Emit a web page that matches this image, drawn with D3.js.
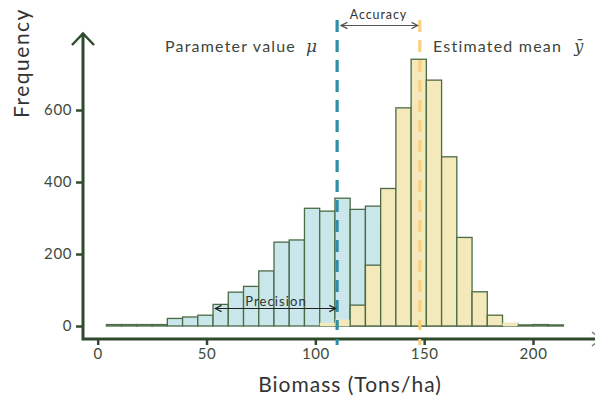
<!DOCTYPE html>
<html>
<head>
<meta charset="utf-8">
<script src="https://cdn.jsdelivr.net/npm/d3@7"></script>
<style>
  body { margin: 0; background: #fff; }
  svg { display: block; font-family: Lato, "Open Sans", sans-serif; }
</style>
</head>
<body>
<svg id="chart" width="595" height="400"></svg>
<script>
// histogram bins (left edge, width 7 t/ha)
const binLefts = [4, 11, 18, 25, 32, 39, 46, 53, 60, 67, 74, 81, 88, 95, 102,
                  109, 116, 123, 130, 137, 144, 151, 158, 165, 172, 179, 186, 193, 200, 207];
const binWidth = 7;
// wide distribution (blue)
const blueCounts = [4, 4, 4, 4, 21, 25, 30, 60, 94, 110, 153, 233, 239, 327, 319,
                    355, 324, 333, 290, 240, 180, 130, 80, 50, 25, 12, 6, 3, 4, 3];
// narrow, biased distribution (yellow)
const yellowCounts = [0, 0, 0, 0, 0, 0, 0, 0, 0, 0, 0, 0, 0, 0, 9,
                      18, 58, 169, 382, 606, 741, 683, 470, 246, 95, 30, 10, 0, 0, 0];
const xTicks = [0, 50, 100, 150, 200];
const yTicks = [0, 200, 400, 600];
const paramValue = 110;
const estMean = 148;

const svg = d3.select("#chart");
const axisColor = "#2f4a2c";
const textColor = "#3d463d";

const x = d3.scaleLinear().domain([0, 200]).range([97.7, 533]);
const y = d3.scaleLinear().domain([0, 600]).range([326, 110]);

const blueBins = binLefts.map((b, i) => ({ x0: b, x1: b + binWidth, n: blueCounts[i] }));
const yellowBins = binLefts.map((b, i) => ({ x0: b, x1: b + binWidth, n: yellowCounts[i] }))
    .filter(d => d.n > 0);

// 1. Bars
svg.append("g").selectAll("rect")
    .data(blueBins)
    .join("rect")
    .attr("x", d => x(d.x0))
    .attr("width", d => x(d.x1) - x(d.x0))
    .attr("y", d => y(d.n))
    .attr("height", d => y(0) - y(d.n))
    .attr("fill", "#c9e7ea")
    .attr("stroke", "#4c6a45")
    .attr("stroke-width", 1.3);

svg.append("g").selectAll("rect")
    .data(yellowBins)
    .join("rect")
    .attr("x", d => x(d.x0))
    .attr("width", d => x(d.x1) - x(d.x0))
    .attr("y", d => y(d.n))
    .attr("height", d => y(0) - y(d.n))
    .attr("fill", "#f3e9bb")
    .attr("stroke", d => d.n > 20 ? "#4c6a45" : "none")
    .attr("stroke-width", 1.3);

// 2. Axes
const yAxis = svg.append("g")
    .attr("transform", "translate(83,0)")
    .call(d3.axisLeft(y).tickValues(yTicks).tickSize(7).tickPadding(4));
const xAxis = svg.append("g")
    .attr("transform", "translate(0,339)")
    .call(d3.axisBottom(x).tickValues(xTicks).tickSize(6).tickPadding(3));

[yAxis, xAxis].forEach(a => {
    a.select(".domain").remove();
    a.selectAll(".tick line").attr("stroke", axisColor).attr("stroke-width", 2.5);
    a.selectAll(".tick text")
        .attr("fill", "#3b4a3b")
        .style("font-family", "Lato, sans-serif")
        .style("font-size", "15px")
        .style("letter-spacing", "0.6px");
});

// axis lines with open arrow heads
svg.append("path")
    .attr("d", "M83,33 L83,339 L600,339")
    .attr("fill", "none")
    .attr("stroke", axisColor)
    .attr("stroke-width", 3);
svg.append("path")
    .attr("d", "M72,45 L83,33.5 L94,45")
    .attr("fill", "none")
    .attr("stroke", axisColor)
    .attr("stroke-width", 2.5);
svg.append("path")
    .attr("d", "M592,332 L601,339 L592,346")
    .attr("fill", "none")
    .attr("stroke", "#777")
    .attr("stroke-width", 1.5);

// 3. Reference lines
const refLines = [
    { v: paramValue, color: "#2d8fa5" },
    { v: estMean, color: "#fbd07c" }
];
svg.append("g").selectAll("line")
    .data(refLines)
    .join("line")
    .attr("x1", d => x(d.v))
    .attr("x2", d => x(d.v))
    .attr("y1", 20)
    .attr("y2", 330)
    .attr("stroke", d => d.color)
    .attr("stroke-width", 3.2)
    .attr("stroke-dasharray", "12,8");
svg.append("g").selectAll("rect")
    .data(refLines)
    .join("rect")
    .attr("x", d => x(d.v) - 1.5)
    .attr("y", 339)
    .attr("width", 3)
    .attr("height", 6)
    .attr("fill", d => d.color);

// 4. Annotations
const defs = svg.append("defs");
[["arrA", "#555"], ["arrP", "#222"]].forEach(([id, c]) => {
    defs.append("marker")
        .attr("id", id)
        .attr("viewBox", "0 0 8 8")
        .attr("refX", 7).attr("refY", 4)
        .attr("markerWidth", 7).attr("markerHeight", 7)
        .attr("orient", "auto-start-reverse")
        .append("path")
        .attr("d", "M1,1 L7,4 L1,7")
        .attr("fill", "none")
        .attr("stroke", c)
        .attr("stroke-width", 1.2);
});

svg.append("line")
    .attr("x1", x(paramValue) + 4).attr("x2", x(estMean) - 2)
    .attr("y1", 25.5).attr("y2", 25.5)
    .attr("stroke", "#555").attr("stroke-width", 1.2)
    .attr("marker-start", "url(#arrA)").attr("marker-end", "url(#arrA)");
svg.append("text")
    .attr("x", (x(paramValue) + x(estMean)) / 2).attr("y", 19)
    .attr("text-anchor", "middle")
    .attr("fill", "#333")
    .style("font-size", "12.5px")
    .style("letter-spacing", "0.9px")
    .text("Accuracy");

svg.append("line")
    .attr("x1", x(54)).attr("x2", x(paramValue) - 1.5)
    .attr("y1", 308.5).attr("y2", 308.5)
    .attr("stroke", "#222").attr("stroke-width", 1.2)
    .attr("marker-start", "url(#arrP)").attr("marker-end", "url(#arrP)");
svg.append("text")
    .attr("x", 276).attr("y", 306)
    .attr("text-anchor", "middle")
    .attr("fill", "#333")
    .style("font-size", "13px")
    .style("letter-spacing", "1.1px")
    .text("Precision");

const t1 = svg.append("text")
    .attr("x", 165).attr("y", 51.5)
    .attr("fill", textColor)
    .style("font-size", "16px")
    .style("letter-spacing", "1.2px");
t1.append("tspan").text("Parameter value");
t1.append("tspan")
    .attr("dx", 10)
    .style("font-family", "'DejaVu Serif', serif")
    .style("font-style", "italic")
    .style("font-size", "17px")
    .style("letter-spacing", "0px")
    .text("μ");

const t2 = svg.append("text")
    .attr("x", 433).attr("y", 51.5)
    .attr("fill", textColor)
    .style("font-size", "16px")
    .style("letter-spacing", "1.2px");
t2.append("tspan").text("Estimated mean");
t2.append("tspan")
    .attr("dx", 12)
    .style("font-family", "'DejaVu Serif', serif")
    .style("font-style", "italic")
    .style("font-size", "16px")
    .style("letter-spacing", "0px")
    .text("ȳ");

// axis titles
svg.append("text")
    .attr("transform", "translate(29,63) rotate(-90)")
    .attr("text-anchor", "middle")
    .attr("fill", "#333")
    .style("font-size", "21px")
    .style("letter-spacing", "1.5px")
    .text("Frequency");
svg.append("text")
    .attr("x", 350).attr("y", 392)
    .attr("text-anchor", "middle")
    .attr("fill", "#333")
    .style("font-size", "21px")
    .style("letter-spacing", "1px")
    .text("Biomass (Tons/ha)");
</script>
</body>
</html>
